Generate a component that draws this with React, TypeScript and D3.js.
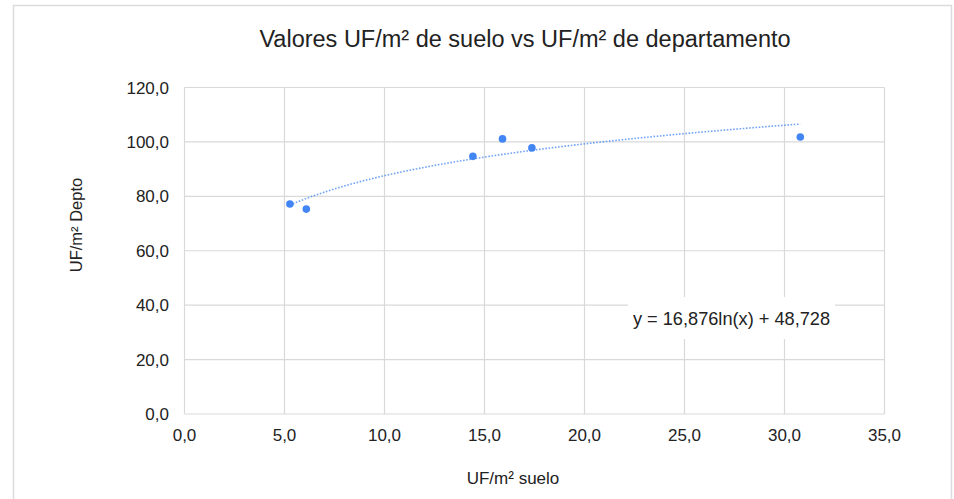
import React from "react";
import * as d3 from "d3";

const xValues = [5.27, 6.09, 14.42, 15.9, 17.37, 30.79];
const yValues = [77.2, 75.3, 94.7, 101.1, 97.8, 101.8];
const xTicks = [0, 5, 10, 15, 20, 25, 30, 35];
const yTicks = [0, 20, 40, 60, 80, 100, 120];
const trendA = 16.876;
const trendB = 48.728;
const title = "Valores UF/m² de suelo vs UF/m² de departamento";
const xTitle = "UF/m² suelo";
const yTitle = "UF/m² Depto";
const equation = "y = 16,876ln(x) + 48,728";

const W = 954;
const H = 499;
const FONT = "Arial, 'Liberation Sans', Helvetica, sans-serif";

export default function App() {
  const x = d3.scaleLinear().domain([0, 35]).range([184.5, 884.5]);
  const y = d3.scaleLinear().domain([0, 120]).range([414, 87.5]);
  const fmt = (v: number) => v.toFixed(1).replace(".", ",");

  const xMin = d3.min(xValues) as number;
  const xMax = d3.max(xValues) as number;
  const trendPts: [number, number][] = d3
    .range(0, 101)
    .map((i) => xMin + ((xMax - xMin) * i) / 100)
    .map((v) => [v, trendA * Math.log(v) + trendB]);
  const line = d3
    .line<[number, number]>()
    .x((d) => x(d[0]))
    .y((d) => y(d[1]));

  return (
    <svg
      width={W}
      height={H}
      style={{ position: "absolute", left: 0, top: 0, background: "#fff" }}
      fontFamily={FONT}
    >
      <rect x={0} y={0} width={W} height={H} fill="#fff" />
      <rect x={13.5} y={5.5} width={938} height={H + 10} fill="none" stroke="#dadce0" strokeWidth={1.5} />
      <text x={525} y={47} textAnchor="middle" fontSize={23.5} fill="#222">
        {title}
      </text>
      {yTicks.map((t) => (
        <g key={"y" + t}>
          <line x1={x(0)} x2={x(35)} y1={y(t)} y2={y(t)} stroke="#d9d9d9" strokeWidth={1.2} />
          <text x={169} y={y(t) + 6} textAnchor="end" fontSize={17} fill="#222">
            {fmt(t)}
          </text>
        </g>
      ))}
      {xTicks.map((t) => (
        <g key={"x" + t}>
          <line x1={x(t)} x2={x(t)} y1={y(0)} y2={y(120)} stroke="#d9d9d9" strokeWidth={1.2} />
          <text x={x(t)} y={441} textAnchor="middle" fontSize={17} fill="#222">
            {fmt(t)}
          </text>
        </g>
      ))}
      <path
        d={line(trendPts) || ""}
        fill="none"
        stroke="#4285f4"
        strokeOpacity={0.75}
        strokeWidth={1.6}
        strokeDasharray="1.6,1.6"
      />
      {xValues.map((v, i) => (
        <circle key={"p" + i} cx={x(v)} cy={y(yValues[i])} r={3.8} fill="#4285f4" />
      ))}
      <rect x={628} y={297} width={207} height={42} fill="#fff" />
      <text x={731.5} y={325} textAnchor="middle" fontSize={18.2} fill="#222">
        {equation}
      </text>
      <text x={513} y={484} textAnchor="middle" fontSize={17} fill="#222">
        {xTitle}
      </text>
      <text
        transform={`translate(81.5,225) rotate(-90)`}
        textAnchor="middle"
        fontSize={16.5}
        fill="#222"
      >
        {yTitle}
      </text>
    </svg>
  );
}
